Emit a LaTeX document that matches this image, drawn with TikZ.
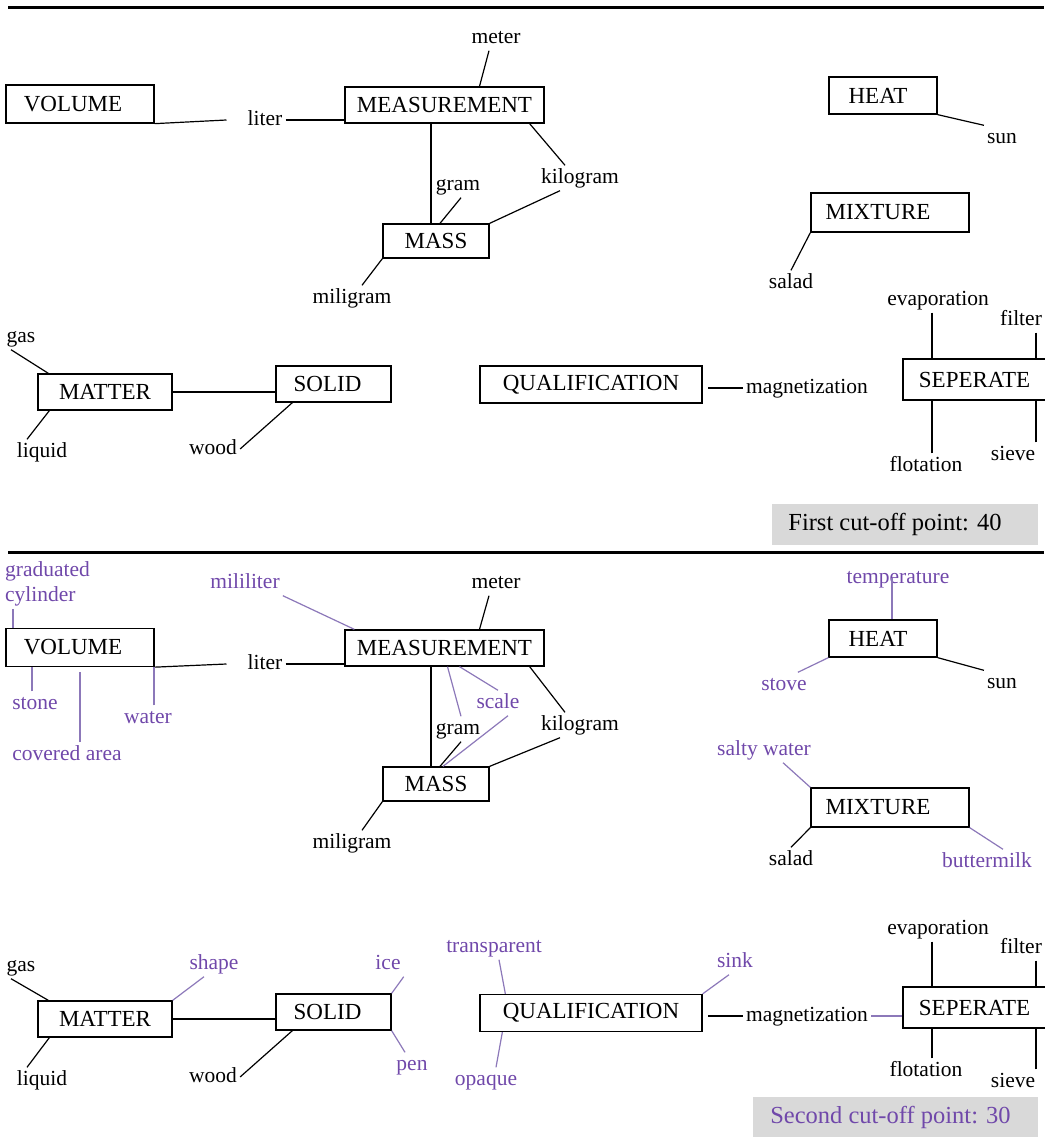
\documentclass[tikz,border=0pt]{standalone}
\usepackage{fontspec}
\setmainfont{Liberation Serif}
\definecolor{newword}{RGB}{112,72,170}
\definecolor{newline}{RGB}{140,120,185}
\definecolor{cutgray}{RGB}{217,217,217}
\newcommand{\wordfont}{\fontsize{21.5}{25}\selectfont}
\tikzset{
  concept/.style={draw, line width=1.3pt, inner sep=0pt, font=\fontsize{23}{27}\selectfont},
  term/.style={inner sep=3pt, text height=15pt, text depth=4pt, font=\wordfont},
  newterm/.style={term, text=newword},
  link/.style={line width=1.2pt},
  newlink/.style={line width=1.2pt, draw=newline},
  rule/.style={line width=3pt},
  cutoff/.style={fill=cutgray, inner sep=0pt, font=\fontsize{24.5}{28}\selectfont}
}
\begin{document}
\begin{tikzpicture}[x=1pt,y=-1pt]
\useasboundingbox (0,0) rectangle (1044,1139);
\draw[rule] (8,8) -- (1044,8);
\draw[rule] (8,552) -- (1044,552);
% first cut-off
\node[concept, minimum width=148, minimum height=38] (vol1) at (80,104) {VOLUME\kern14pt};
\node[concept, minimum width=199, minimum height=36] (meas1) at (444.5,105) {MEASUREMENT};
\node[concept, minimum width=106, minimum height=34] (mass1) at (436,241) {MASS};
\node[concept, minimum width=108, minimum height=37] (heat1) at (883,95.5) {HEAT\kern10pt};
\node[concept, minimum width=158, minimum height=39] (mix1) at (890,212.5) {MIXTURE\kern24pt};
\node[concept, minimum width=134, minimum height=36] (matter1) at (105,392) {MATTER};
\node[concept, minimum width=115, minimum height=36] (solid1) at (333.5,384) {SOLID\kern12pt};
\node[concept, minimum width=222, minimum height=37] (qual1) at (591,384.5) {QUALIFICATION};
\node[concept, minimum width=143, minimum height=41] (sep1) at (974.5,379.5) {SEPERATE};
\node[term] (meter1) at (496,38) {meter};
\node[term] (liter1) at (265,120) {liter};
\node[term] (kilo1) at (580,178) {kilogram};
\node[term] (gram1) at (458,185) {gram};
\node[term] (milig1) at (352,298) {miligram};
\node[term] (sun1) at (1002,138) {sun};
\node[term] (salad1) at (791,283) {salad};
\node[term] (evap1) at (938,300) {evaporation};
\node[term] (filter1) at (1021,320) {filter};
\node[term] (flot1) at (926,466) {flotation};
\node[term] (sieve1) at (1013,455) {sieve};
\node[term] (magnet1) at (807,388) {magnetization};
\node[term] (gas1) at (21,337) {gas};
\node[term] (liquid1) at (42,452) {liquid};
\node[term] (wood1) at (213,449) {wood};
\node[cutoff, minimum width=266, minimum height=41] (cut1) at (905,524.5) {First cut-off point: 40\kern20pt};
\draw[link] (vol1.south east) -- ([xshift=-18]liter1.west);
\draw[link] (liter1.east) -- (liter1.east -| meas1.west);
\draw[link] ([xshift=-7]meter1.south) -- ([xshift=35]meas1.north);
\draw[link] ([xshift=-15]meas1.south east) -- ([xshift=-15]kilo1.north);
\draw[link] ([xshift=-5]mass1.north) -- ([xshift=-5]mass1.north |- meas1.south);
\draw[link] ([xshift=4]mass1.north) -- ([xshift=3]gram1.south);
\draw[link] (mass1.north east) -- ([xshift=-20]kilo1.south);
\draw[link] (mass1.south west) -- ([xshift=10]milig1.north);
\draw[link] (heat1.south east) -- (sun1.north west);
\draw[link] (mix1.south west) -- (salad1.north);
\draw[link] ([xshift=-6]evap1.south) -- ([xshift=-6]evap1.south |- sep1.north);
\draw[link] ([xshift=15]filter1.south) -- ([xshift=15]filter1.south |- sep1.north);
\draw[link] ([xshift=6]flot1.north) -- ([xshift=6]flot1.north |- sep1.south);
\draw[link] ([xshift=23]sieve1.north) -- ([xshift=23]sieve1.north |- sep1.south);
\draw[link] (magnet1.west) -- ([xshift=5]magnet1.west -| qual1.east);
\draw[link] ([xshift=-10]gas1.south) -- ([xshift=11]matter1.north west);
\draw[link] (matter1.east) -- (matter1.east -| solid1.west);
\draw[link] ([xshift=12]matter1.south west) -- ([xshift=-15]liquid1.north);
\draw[link] ([xshift=17]solid1.south west) -- (wood1.east);
% second cut-off
\node[concept, minimum width=148, minimum height=38] (vol2) at (80,647.5) {VOLUME\kern14pt};
\node[concept, minimum width=199, minimum height=36] (meas2) at (444.5,648) {MEASUREMENT};
\node[concept, minimum width=106, minimum height=34] (mass2) at (436,784) {MASS};
\node[concept, minimum width=108, minimum height=37] (heat2) at (883,638.5) {HEAT\kern10pt};
\node[concept, minimum width=158, minimum height=39] (mix2) at (890,807.5) {MIXTURE\kern24pt};
\node[concept, minimum width=134, minimum height=36] (matter2) at (105,1019) {MATTER};
\node[concept, minimum width=115, minimum height=36] (solid2) at (333.5,1012) {SOLID\kern12pt};
\node[concept, minimum width=222, minimum height=37] (qual2) at (591,1013) {QUALIFICATION};
\node[concept, minimum width=143, minimum height=41] (sep2) at (974.5,1007.5) {SEPERATE};
\node[term] (meter2) at (496,583) {meter};
\node[term] (liter2) at (265,664) {liter};
\node[term] (kilo2) at (580,725) {kilogram};
\node[term] (gram2) at (458,729) {gram};
\node[term] (milig2) at (352,843) {miligram};
\node[term] (sun2) at (1002,683) {sun};
\node[term] (salad2) at (791,860) {salad};
\node[term] (evap2) at (938,929) {evaporation};
\node[term] (filter2) at (1021,948) {filter};
\node[term] (flot2) at (926,1071) {flotation};
\node[term] (sieve2) at (1013,1082) {sieve};
\node[term] (magnet2) at (807,1016) {magnetization};
\node[term] (gas2) at (21,966) {gas};
\node[term] (liquid2) at (42,1080) {liquid};
\node[term] (wood2) at (213,1077) {wood};
\node[font=\wordfont, text=newword, align=left, anchor=north west, inner sep=3pt] (cyl2) at (2,558) {graduated\\cylinder};
\node[newterm] (milil2) at (245,583) {mililiter};
\node[newterm] (stone2) at (35,704) {stone};
\node[newterm] (area2) at (67,755) {covered area};
\node[newterm] (water2) at (148,718) {water};
\node[newterm] (scale2) at (498,703) {scale};
\node[newterm] (temp2) at (898,578) {temperature};
\node[newterm] (stove2) at (784,685) {stove};
\node[newterm] (salty2) at (764,750) {salty water};
\node[newterm] (butter2) at (987,862) {buttermilk};
\node[newterm] (shape2) at (214,964) {shape};
\node[newterm] (ice2) at (388,964) {ice};
\node[newterm] (pen2) at (412,1065) {pen};
\node[newterm] (trans2) at (494,947) {transparent};
\node[newterm] (opaque2) at (486,1080) {opaque};
\node[newterm] (sink2) at (735,962) {sink};
\node[cutoff, text=newword, minimum width=285, minimum height=40] (cut2) at (895.5,1117) {Second cut-off point: 30\kern10pt};
\draw[link] (vol2.south east) -- ([xshift=-18]liter2.west);
\draw[link] (liter2.east) -- (liter2.east -| meas2.west);
\draw[link] ([xshift=-7]meter2.south) -- ([xshift=35]meas2.north);
\draw[link] ([xshift=-15]meas2.south east) -- ([xshift=-15]kilo2.north);
\draw[link] ([xshift=-5]mass2.north) -- ([xshift=-5]mass2.north |- meas2.south);
\draw[link] ([xshift=4]mass2.north) -- ([xshift=3]gram2.south);
\draw[link] (mass2.north east) -- ([xshift=-20]kilo2.south);
\draw[link] (mass2.south west) -- ([xshift=10]milig2.north);
\draw[link] (heat2.south east) -- (sun2.north west);
\draw[link] (mix2.south west) -- (salad2.north);
\draw[link] ([xshift=-6]evap2.south) -- ([xshift=-6]evap2.south |- sep2.north);
\draw[link] ([xshift=15]filter2.south) -- ([xshift=15]filter2.south |- sep2.north);
\draw[link] ([xshift=6]flot2.north) -- ([xshift=6]flot2.north |- sep2.south);
\draw[link] ([xshift=23]sieve2.north) -- ([xshift=23]sieve2.north |- sep2.south);
\draw[link] (magnet2.west) -- ([xshift=5]magnet2.west -| qual2.east);
\draw[link] ([xshift=-10]gas2.south) -- ([xshift=11]matter2.north west);
\draw[link] (matter2.east) -- (matter2.east -| solid2.west);
\draw[link] ([xshift=12]matter2.south west) -- ([xshift=-15]liquid2.north);
\draw[link] ([xshift=17]solid2.south west) -- (wood2.east);
\draw[newlink] ([xshift=11]cyl2.south west) -- ([xshift=11]cyl2.south west |- vol2.north);
\draw[newlink] ([xshift=-3]stone2.north) -- ([xshift=-3]stone2.north |- vol2.south);
\draw[newlink, shorten >=5pt] ([xshift=13]area2.north) -- ([xshift=13]area2.north |- vol2.south);
\draw[newlink] ([xshift=6]water2.north) -- ([xshift=6]water2.north |- vol2.south);
\draw[newlink] (milil2.south east) -- ([xshift=10]meas2.north west);
\draw[newlink] ([xshift=15]meas2.south) -- (scale2.north);
\draw[newlink] ([xshift=7]mass2.north) -- ([xshift=10]scale2.south);
\draw[newlink] ([xshift=3]meas2.south) -- ([xshift=3]gram2.north);
\draw[newlink] ([xshift=-6]temp2.center) -- ([xshift=-6]temp2.center |- heat2.north);
\draw[newlink] (heat2.south west) -- ([xshift=-12]stove2.north east);
\draw[newlink] ([xshift=19]salty2.south) -- (mix2.north west);
\draw[newlink] (mix2.south east) -- ([xshift=16]butter2.north);
\draw[newlink] ([xshift=-10]shape2.south) -- (matter2.north east);
\draw[newlink] (ice2.south east) -- (solid2.north east);
\draw[newlink] (solid2.south east) -- ([xshift=-7]pen2.north);
\draw[newlink] ([xshift=5]trans2.south) -- ([xshift=26]qual2.north west);
\draw[newlink] ([xshift=23]qual2.south west) -- ([xshift=10]opaque2.north);
\draw[newlink] ([xshift=-6]sink2.south) -- (qual2.north east);
\draw[newlink] (magnet2.east) -- (magnet2.east -| sep2.west);
\end{tikzpicture}
\end{document}
